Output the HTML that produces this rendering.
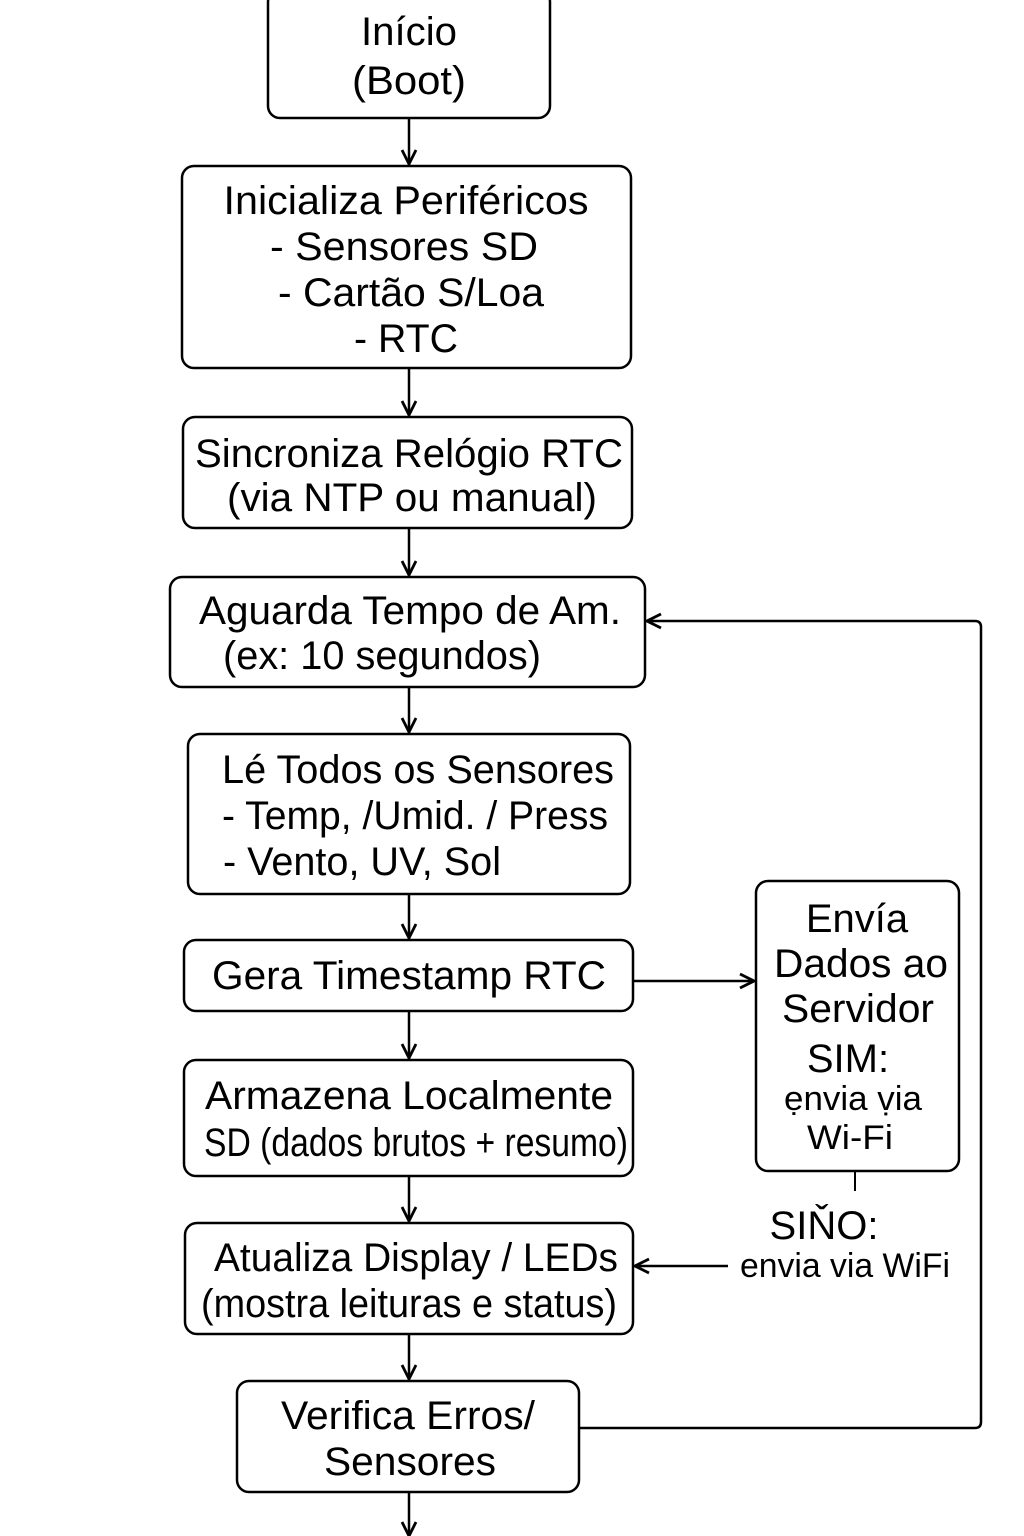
<!DOCTYPE html>
<html><head><meta charset="utf-8"><style>body{margin:0;background:#fff}svg{display:block}</style></head><body>
<svg width="1024" height="1536" viewBox="0 0 1024 1536" xmlns="http://www.w3.org/2000/svg" font-family="Liberation Sans, Arial, sans-serif" fill="#000">
<defs><marker id="a" markerWidth="20" markerHeight="20" refX="17" refY="9" orient="auto" markerUnits="userSpaceOnUse"><path d="M3,2 L17,9 L3,16" fill="none" stroke="#000" stroke-width="2.8"/></marker></defs>
<g fill="none" stroke="#000" stroke-width="2.5">
<rect x="268" y="-10" width="282" height="128" rx="12"/>
<rect x="182" y="166" width="449" height="202" rx="12"/>
<rect x="183" y="417" width="449" height="111" rx="12"/>
<rect x="170" y="577" width="475" height="110" rx="12"/>
<rect x="188" y="734" width="442" height="160" rx="12"/>
<rect x="184" y="940" width="449" height="71" rx="12"/>
<rect x="184" y="1060" width="449" height="116" rx="12"/>
<rect x="185" y="1223" width="448" height="111" rx="12"/>
<rect x="237" y="1381" width="342" height="111" rx="12"/>
<rect x="756" y="881" width="203" height="290" rx="12"/>
<g marker-end="url(#a)">
<line x1="409" y1="118" x2="409" y2="164"/>
<line x1="409" y1="368" x2="409" y2="415"/>
<line x1="409" y1="528" x2="409" y2="575"/>
<line x1="409" y1="687" x2="409" y2="732"/>
<line x1="409" y1="894" x2="409" y2="938"/>
<line x1="409" y1="1011" x2="409" y2="1058"/>
<line x1="409" y1="1176" x2="409" y2="1221"/>
<line x1="409" y1="1334" x2="409" y2="1379"/>
<line x1="409" y1="1492" x2="409" y2="1536"/>
<line x1="633" y1="981" x2="754" y2="981"/>
<line x1="728" y1="1266" x2="635" y2="1266"/>
<path d="M579,1428 H975 Q981,1428 981,1422 V627 Q981,621 975,621 H647"/>
</g>
<line x1="855" y1="1171" x2="855" y2="1191" stroke-width="2"/>
</g>
<g font-size="40" text-anchor="middle" lengthAdjust="spacingAndGlyphs">
<text x="409" y="45" textLength="96" lengthAdjust="spacingAndGlyphs">Início</text>
<text x="409" y="94" textLength="114" lengthAdjust="spacingAndGlyphs">(Boot)</text>
<text x="406" y="214" textLength="365" lengthAdjust="spacingAndGlyphs">Inicializa Periféricos</text>
<text x="404" y="260" textLength="268" lengthAdjust="spacingAndGlyphs">- Sensores SD</text>
<text x="411" y="306" textLength="266" lengthAdjust="spacingAndGlyphs">- Cartão S/Loa</text>
<text x="406" y="352" textLength="104" lengthAdjust="spacingAndGlyphs">- RTC</text>
<text x="409" y="467" textLength="428" lengthAdjust="spacingAndGlyphs">Sincroniza Relógio RTC</text>
<text x="412" y="511" textLength="370" lengthAdjust="spacingAndGlyphs">(via NTP ou manual)</text>
<text x="410" y="624" textLength="422" lengthAdjust="spacingAndGlyphs">Aguarda Tempo de Am.</text>
<text x="382" y="669" textLength="318" lengthAdjust="spacingAndGlyphs">(ex: 10 segundos)</text>
<text x="418" y="783" textLength="392" lengthAdjust="spacingAndGlyphs">Lé Todos os Sensores</text>
<text x="415" y="829" textLength="386" lengthAdjust="spacingAndGlyphs">- Temp, /Umid. / Press</text>
<text x="362" y="875" textLength="278" lengthAdjust="spacingAndGlyphs">- Vento, UV, Sol</text>
<text x="409" y="989" textLength="394" lengthAdjust="spacingAndGlyphs">Gera Timestamp RTC</text>
<text x="409" y="1109" textLength="408" lengthAdjust="spacingAndGlyphs">Armazena Localmente</text>
<text x="416" y="1156" textLength="424" lengthAdjust="spacingAndGlyphs">SD (dados brutos + resumo)</text>
<text x="416" y="1271" textLength="404" lengthAdjust="spacingAndGlyphs">Atualiza Display / LEDs</text>
<text x="409" y="1317" textLength="416" lengthAdjust="spacingAndGlyphs">(mostra leituras e status)</text>
<text x="408" y="1429" textLength="254" lengthAdjust="spacingAndGlyphs">Verifica Erros/</text>
<text x="410" y="1475" textLength="172" lengthAdjust="spacingAndGlyphs">Sensores</text>
<text x="857" y="932">Envía</text>
<text x="861" y="977" textLength="174" lengthAdjust="spacingAndGlyphs">Dados ao</text>
<text x="858" y="1022" textLength="152" lengthAdjust="spacingAndGlyphs">Servidor</text>
<text x="848" y="1072">SIM:</text>
<text x="824" y="1239">SIŇO:</text>
</g>
<g font-size="34" text-anchor="middle">
<text x="853" y="1110" textLength="138" lengthAdjust="spacingAndGlyphs">ẹnvia ṿia</text>
<text x="850" y="1149" textLength="86" lengthAdjust="spacingAndGlyphs">Wi-Fi</text>
<text x="845" y="1277" textLength="210" lengthAdjust="spacingAndGlyphs">envia via WiFi</text>
</g>
</svg>
</body></html>
